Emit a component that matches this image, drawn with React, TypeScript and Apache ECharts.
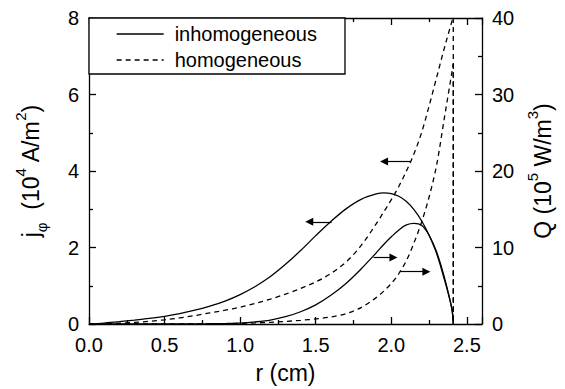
import React, { useEffect, useRef } from "react";
import * as echarts from "echarts";

const FONT = "'Liberation Sans', Arial, Helvetica, sans-serif";

// radius samples (cm)
const r = [0, 0.1, 0.2, 0.3, 0.4, 0.5, 0.6, 0.7, 0.8, 0.9, 1.0, 1.1, 1.2, 1.3, 1.4, 1.5, 1.6, 1.7, 1.8, 1.9, 1.95, 2.0, 2.05, 2.1, 2.15, 2.2, 2.25, 2.3, 2.35, 2.4, 2.41];
// current density j_phi (10^4 A/m^2), left axis
const jInhom = [0, 0.025, 0.06, 0.1, 0.145, 0.2, 0.27, 0.36, 0.47, 0.6, 0.77, 0.98, 1.24, 1.56, 1.92, 2.31, 2.68, 3.01, 3.26, 3.4, 3.43, 3.41, 3.34, 3.2, 2.99, 2.7, 2.32, 1.84, 1.18, 0.42, 0];
const jHom = [0, 0.005, 0.02, 0.04, 0.07, 0.11, 0.16, 0.22, 0.29, 0.36, 0.44, 0.54, 0.65, 0.78, 0.93, 1.1, 1.32, 1.62, 2.05, 2.62, 2.93, 3.25, 3.6, 4.0, 4.45, 5.0, 5.7, 6.45, 7.2, 7.9, 8.0];
// heat Q (10^5 W/m^3), right axis
const qInhom = [0, 0, 0, 0, 0, 0, 0, 0, 0.03, 0.06, 0.12, 0.28, 0.52, 0.95, 1.6, 2.5, 3.75, 5.3, 7.2, 9.3, 10.4, 11.4, 12.3, 12.95, 13.15, 12.9, 11.6, 9.4, 6.2, 2.0, 0];
const qHom = [0, 0, 0, 0, 0, 0, 0, 0.01, 0.02, 0.05, 0.08, 0.14, 0.22, 0.33, 0.48, 0.66, 0.92, 1.35, 2.15, 3.45, 4.3, 5.3, 6.6, 8.3, 10.6, 13.3, 16.6, 20.8, 26.8, 32.8, 34.0];
// edge radius where homogeneous curves drop to zero
const rEdge = 2.41;

// arrow annotations: [rStart, rEnd, value]
const arrowJInhom = [1.605, 1.457, 2.67];
const arrowJHom = [2.126, 1.952, 4.25];
const arrowQInhom = [1.883, 2.014, 8.7];
const arrowQHom = [2.06, 2.232, 6.84];

const xTicks = { min: 0, max: 2.6, interval: 0.5 };
const yLeftTicks = { min: 0, max: 8, interval: 2 };
const yRightTicks = { min: 0, max: 40, interval: 10 };

const SERIES_NAMES = ["inhomogeneous", "homogeneous"];

const pairs = (xs: number[], ys: number[]) => xs.map((x, i) => [x, ys[i]]);

export default function App() {
  const ref = useRef<HTMLDivElement>(null);
  useEffect(() => {
    if (!ref.current) return;
    const chart = echarts.init(ref.current, undefined, { renderer: "svg" });
    const black = "#000";
    const lw = 1.3;
    const axisLine = { show: true, onZero: false, lineStyle: { color: black, width: lw } };
    const tick = { show: true, inside: true, length: 7, lineStyle: { color: black, width: lw } };
    const minor = { show: true, splitNumber: 2, length: 4, lineStyle: { color: black, width: lw } };
    const labelStyle = { fontSize: 20, color: black, fontFamily: FONT };
    const richBase = { fontSize: 23, lineHeight: 36, color: black, fontFamily: FONT };
    const richSup = { fontSize: 15, lineHeight: 15, verticalAlign: "top", color: black, fontFamily: FONT };
    const richSub = { fontSize: 15, lineHeight: 15, verticalAlign: "bottom", color: black, fontFamily: FONT };

    const arrow = (a: number[]) => ({
      silent: true,
      symbol: ["none", "triangle"],
      symbolSize: 8,
      lineStyle: { color: black, type: "solid", width: 1.2 },
      itemStyle: { color: black },
      label: { show: false },
      emphasis: { disabled: true },
      data: [[{ coord: [a[0], a[2]] }, { coord: [a[1], a[2]] }]],
    });

    const lineSeries = (name: string, data: number[][], yIdx: number, dashed: boolean, extra: any = {}) => ({
      type: "line",
      name,
      data,
      xAxisIndex: 0,
      yAxisIndex: yIdx,
      symbol: "none",
      smooth: 0.33,
      color: black,
      lineStyle: { color: black, width: lw, type: dashed ? [5, 4] : "solid" },
      emphasis: { disabled: true },
      ...extra,
    });

    chart.setOption({
      animation: false,
      grid: { left: 89, top: 18, right: 83, bottom: 62, containLabel: false },
      legend: {
        data: SERIES_NAMES,
        orient: "vertical",
        left: 89,
        top: 18,
        padding: [6, 28, 4, 27],
        itemGap: 6,
        itemWidth: 47,
        itemHeight: 12,
        borderColor: black,
        borderWidth: lw,
        selectedMode: false,
        backgroundColor: "#fff",
        itemStyle: { color: "rgba(0,0,0,0)", borderWidth: 0, opacity: 0 },
        lineStyle: { color: black, width: lw },
        textStyle: { ...labelStyle, padding: [0, 0, 0, 6] },
      },
      xAxis: [
        {
          type: "value",
          position: "bottom",
          ...xTicks,
          axisLine,
          axisTick: tick,
          minorTick: minor,
          splitLine: { show: false },
          axisLabel: { ...labelStyle, margin: 11, formatter: (v: number) => v.toFixed(1) },
          name: "r (cm)",
          nameLocation: "middle",
          nameGap: 37,
          nameTextStyle: { fontSize: 23, color: black, fontFamily: FONT },
        },
        {
          type: "value",
          position: "top",
          ...xTicks,
          axisLine,
          axisTick: tick,
          minorTick: minor,
          splitLine: { show: false },
          axisLabel: { show: false },
        },
      ],
      yAxis: [
        {
          type: "value",
          position: "left",
          ...yLeftTicks,
          axisLine,
          axisTick: tick,
          minorTick: minor,
          splitLine: { show: false },
          axisLabel: { ...labelStyle, margin: 10 },
          name: "{b|j}{sub|φ}{b|  (10}{sup|4}{b| A/m}{sup|2}{b|)}",
          nameLocation: "middle",
          nameRotate: 90,
          nameGap: 40,
          nameTextStyle: { rich: { b: richBase, sup: richSup, sub: richSub } },
        },
        {
          type: "value",
          position: "right",
          ...yRightTicks,
          axisLine,
          axisTick: tick,
          minorTick: minor,
          splitLine: { show: false },
          axisLabel: { ...labelStyle, margin: 10 },
          name: "{b|Q (10}{sup|5}{b| W/m}{sup|3}{b|)}",
          nameLocation: "middle",
          nameRotate: 90,
          nameGap: 39,
          nameTextStyle: { rich: { b: richBase, sup: richSup } },
        },
      ],
      series: [
        lineSeries(SERIES_NAMES[0], pairs(r, jInhom), 0, false, { markLine: arrow(arrowJInhom) }),
        lineSeries(SERIES_NAMES[1], pairs(r, jHom), 0, true, { markLine: arrow(arrowJHom) }),
        lineSeries(SERIES_NAMES[0], pairs(r, qInhom), 1, false, { markLine: arrow(arrowQInhom) }),
        lineSeries(SERIES_NAMES[1], pairs(r, qHom), 1, true, { markLine: arrow(arrowQHom) }),
        lineSeries(SERIES_NAMES[1], [[rEdge, jHom[jHom.length - 1]], [rEdge, 0]], 0, true, { smooth: false }),
        lineSeries(SERIES_NAMES[1], [[rEdge, qHom[qHom.length - 1]], [rEdge, 0]], 1, true, { smooth: false }),
      ],
    });
    return () => chart.dispose();
  }, []);
  return (
    <div
      ref={ref}
      style={{ position: "fixed", left: 0, top: 0, width: 565, height: 389, background: "#fff" }}
    />
  );
}
